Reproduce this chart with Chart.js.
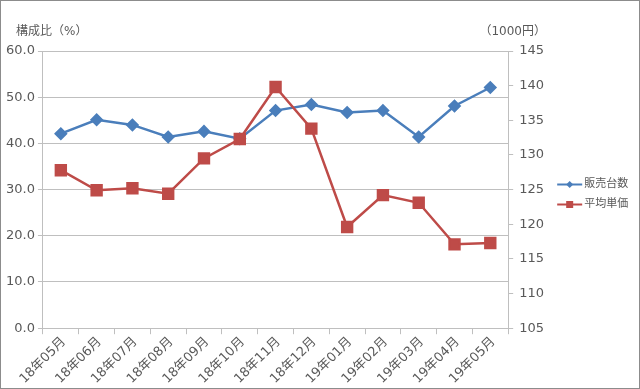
<!DOCTYPE html>
<html>
<head>
<meta charset="utf-8">
<title>販売台数と平均単価</title>
<script src="https://cdn.jsdelivr.net/npm/chart.js"></script>
<style>
    body { margin: 0; background: #ffffff; }
</style>
</head>
<body>
<canvas id="chart" width="640" height="389"></canvas>
<script>
    var months = ['18年05月', '18年06月', '18年07月', '18年08月', '18年09月', '18年10月', '18年11月',
                  '18年12月', '19年01月', '19年02月', '19年03月', '19年04月', '19年05月'];
    var units = [42.1, 45.1, 44.0, 41.4, 42.6, 41.0, 47.1, 48.4, 46.7, 47.1, 41.4, 48.1, 52.1];
    var prices = [127.8, 124.9, 125.2, 124.4, 129.5, 132.3, 139.8, 133.8, 119.6, 124.2, 123.1, 117.1, 117.3];
    var unitsLabel = '販売台数';
    var pricesLabel = '平均単価';
    var leftTitle = '構成比（%）';
    var rightTitle = '（1000円）';

    var FONT = "'DejaVu Sans', 'Noto Sans CJK JP', sans-serif";
    var BLUE = '#4a7ebb';
    var RED = '#be4b48';
    var TEXT = '#595959';

    // frame, axis titles and the legend (line + marker, like Excel)
    var extras = {
        id: 'extras',
        beforeDraw: function (chart) {
            var ctx = chart.ctx;
            ctx.save();
            ctx.fillStyle = '#ffffff';
            ctx.fillRect(0, 0, chart.width, chart.height);
            ctx.strokeStyle = '#8c8c8c';
            ctx.lineWidth = 1;
            ctx.strokeRect(0.5, 0.5, chart.width - 1, chart.height - 1);
            ctx.restore();
        },
        afterDraw: function (chart) {
            var ctx = chart.ctx;
            var top = chart.chartArea.top;
            var y1 = chart.scales.y1;
            ctx.save();
            ctx.fillStyle = TEXT;
            ctx.font = '12px ' + FONT;
            ctx.textBaseline = 'middle';
            ctx.textAlign = 'left';
            ctx.fillText(leftTitle, 16, top - 19);
            ctx.textAlign = 'right';
            ctx.fillText(rightTitle, y1.right - 4, top - 19);

            // legend
            var x0 = chart.chartArea.right + 49;
            var yc = chart.height / 2 - 10;
            ctx.font = '11px ' + FONT;
            ctx.textAlign = 'left';
            chart.data.datasets.forEach(function (ds, i) {
                var y = yc + i * 20;
                ctx.strokeStyle = ds.borderColor;
                ctx.lineWidth = 2;
                ctx.beginPath();
                ctx.moveTo(x0, y);
                ctx.lineTo(x0 + 25, y);
                ctx.stroke();
                ctx.fillStyle = ds.borderColor;
                ctx.beginPath();
                if (ds.pointStyle == 'rectRot') {
                    ctx.moveTo(x0 + 12.5, y - 3.5);
                    ctx.lineTo(x0 + 16, y);
                    ctx.lineTo(x0 + 12.5, y + 3.5);
                    ctx.lineTo(x0 + 9, y);
                } else {
                    ctx.rect(x0 + 9, y - 3.5, 7, 7);
                }
                ctx.fill();
                ctx.fillStyle = TEXT;
                ctx.fillText(ds.label, x0 + 27, y);
            });
            ctx.restore();
        }
    };

    var ctx = document.getElementById('chart').getContext('2d');
    var chart = new Chart(ctx, {
        type: 'line',
        data: {
            labels: months,
            datasets: [{
                label: unitsLabel,
                data: units,
                yAxisID: 'y',
                order: 1,
                borderColor: BLUE,
                backgroundColor: BLUE,
                borderWidth: 2.5,
                pointStyle: 'rectRot',
                pointRadius: 5,
                pointHoverRadius: 5,
                tension: 0
            }, {
                label: pricesLabel,
                data: prices,
                yAxisID: 'y1',
                order: 0, // red drawn on top of blue
                borderColor: RED,
                backgroundColor: RED,
                borderWidth: 2.5,
                pointStyle: 'rect',
                pointRadius: 7,
                pointHoverRadius: 7,
                tension: 0
            }]
        },
        options: {
            responsive: false,
            animation: false,
            layout: { padding: { top: 51, left: 3, right: 90, bottom: 2 } },
            plugins: {
                tooltip: { enabled: false },
                legend: { display: false }
            },
            scales: {
                x: {
                    offset: true,
                    grid: {
                        offset: true,
                        drawOnChartArea: false,
                        color: '#bfbfbf',
                        tickLength: 6
                    },
                    border: { color: '#bfbfbf' },
                    ticks: {
                        color: TEXT,
                        font: { family: FONT, size: 13 },
                        minRotation: 45,
                        maxRotation: 45,
                        padding: 0,
                        labelOffset: 3
                    }
                },
                y: {
                    position: 'left',
                    min: 0,
                    max: 60,
                    grid: { color: '#bfbfbf', tickLength: 5 },
                    border: { color: '#bfbfbf' },
                    ticks: {
                        stepSize: 10,
                        color: TEXT,
                        font: { family: FONT, size: 13 },
                        padding: 3,
                        callback: function (v) { return v.toFixed(1); }
                    }
                },
                y1: {
                    position: 'right',
                    min: 105,
                    max: 145,
                    grid: { drawOnChartArea: false, color: '#bfbfbf', tickLength: 5 },
                    border: { color: '#bfbfbf' },
                    ticks: {
                        stepSize: 5,
                        color: TEXT,
                        font: { family: FONT, size: 13 },
                        padding: 6
                    }
                }
            }
        },
        plugins: [extras]
    });
</script>
</body>
</html>
